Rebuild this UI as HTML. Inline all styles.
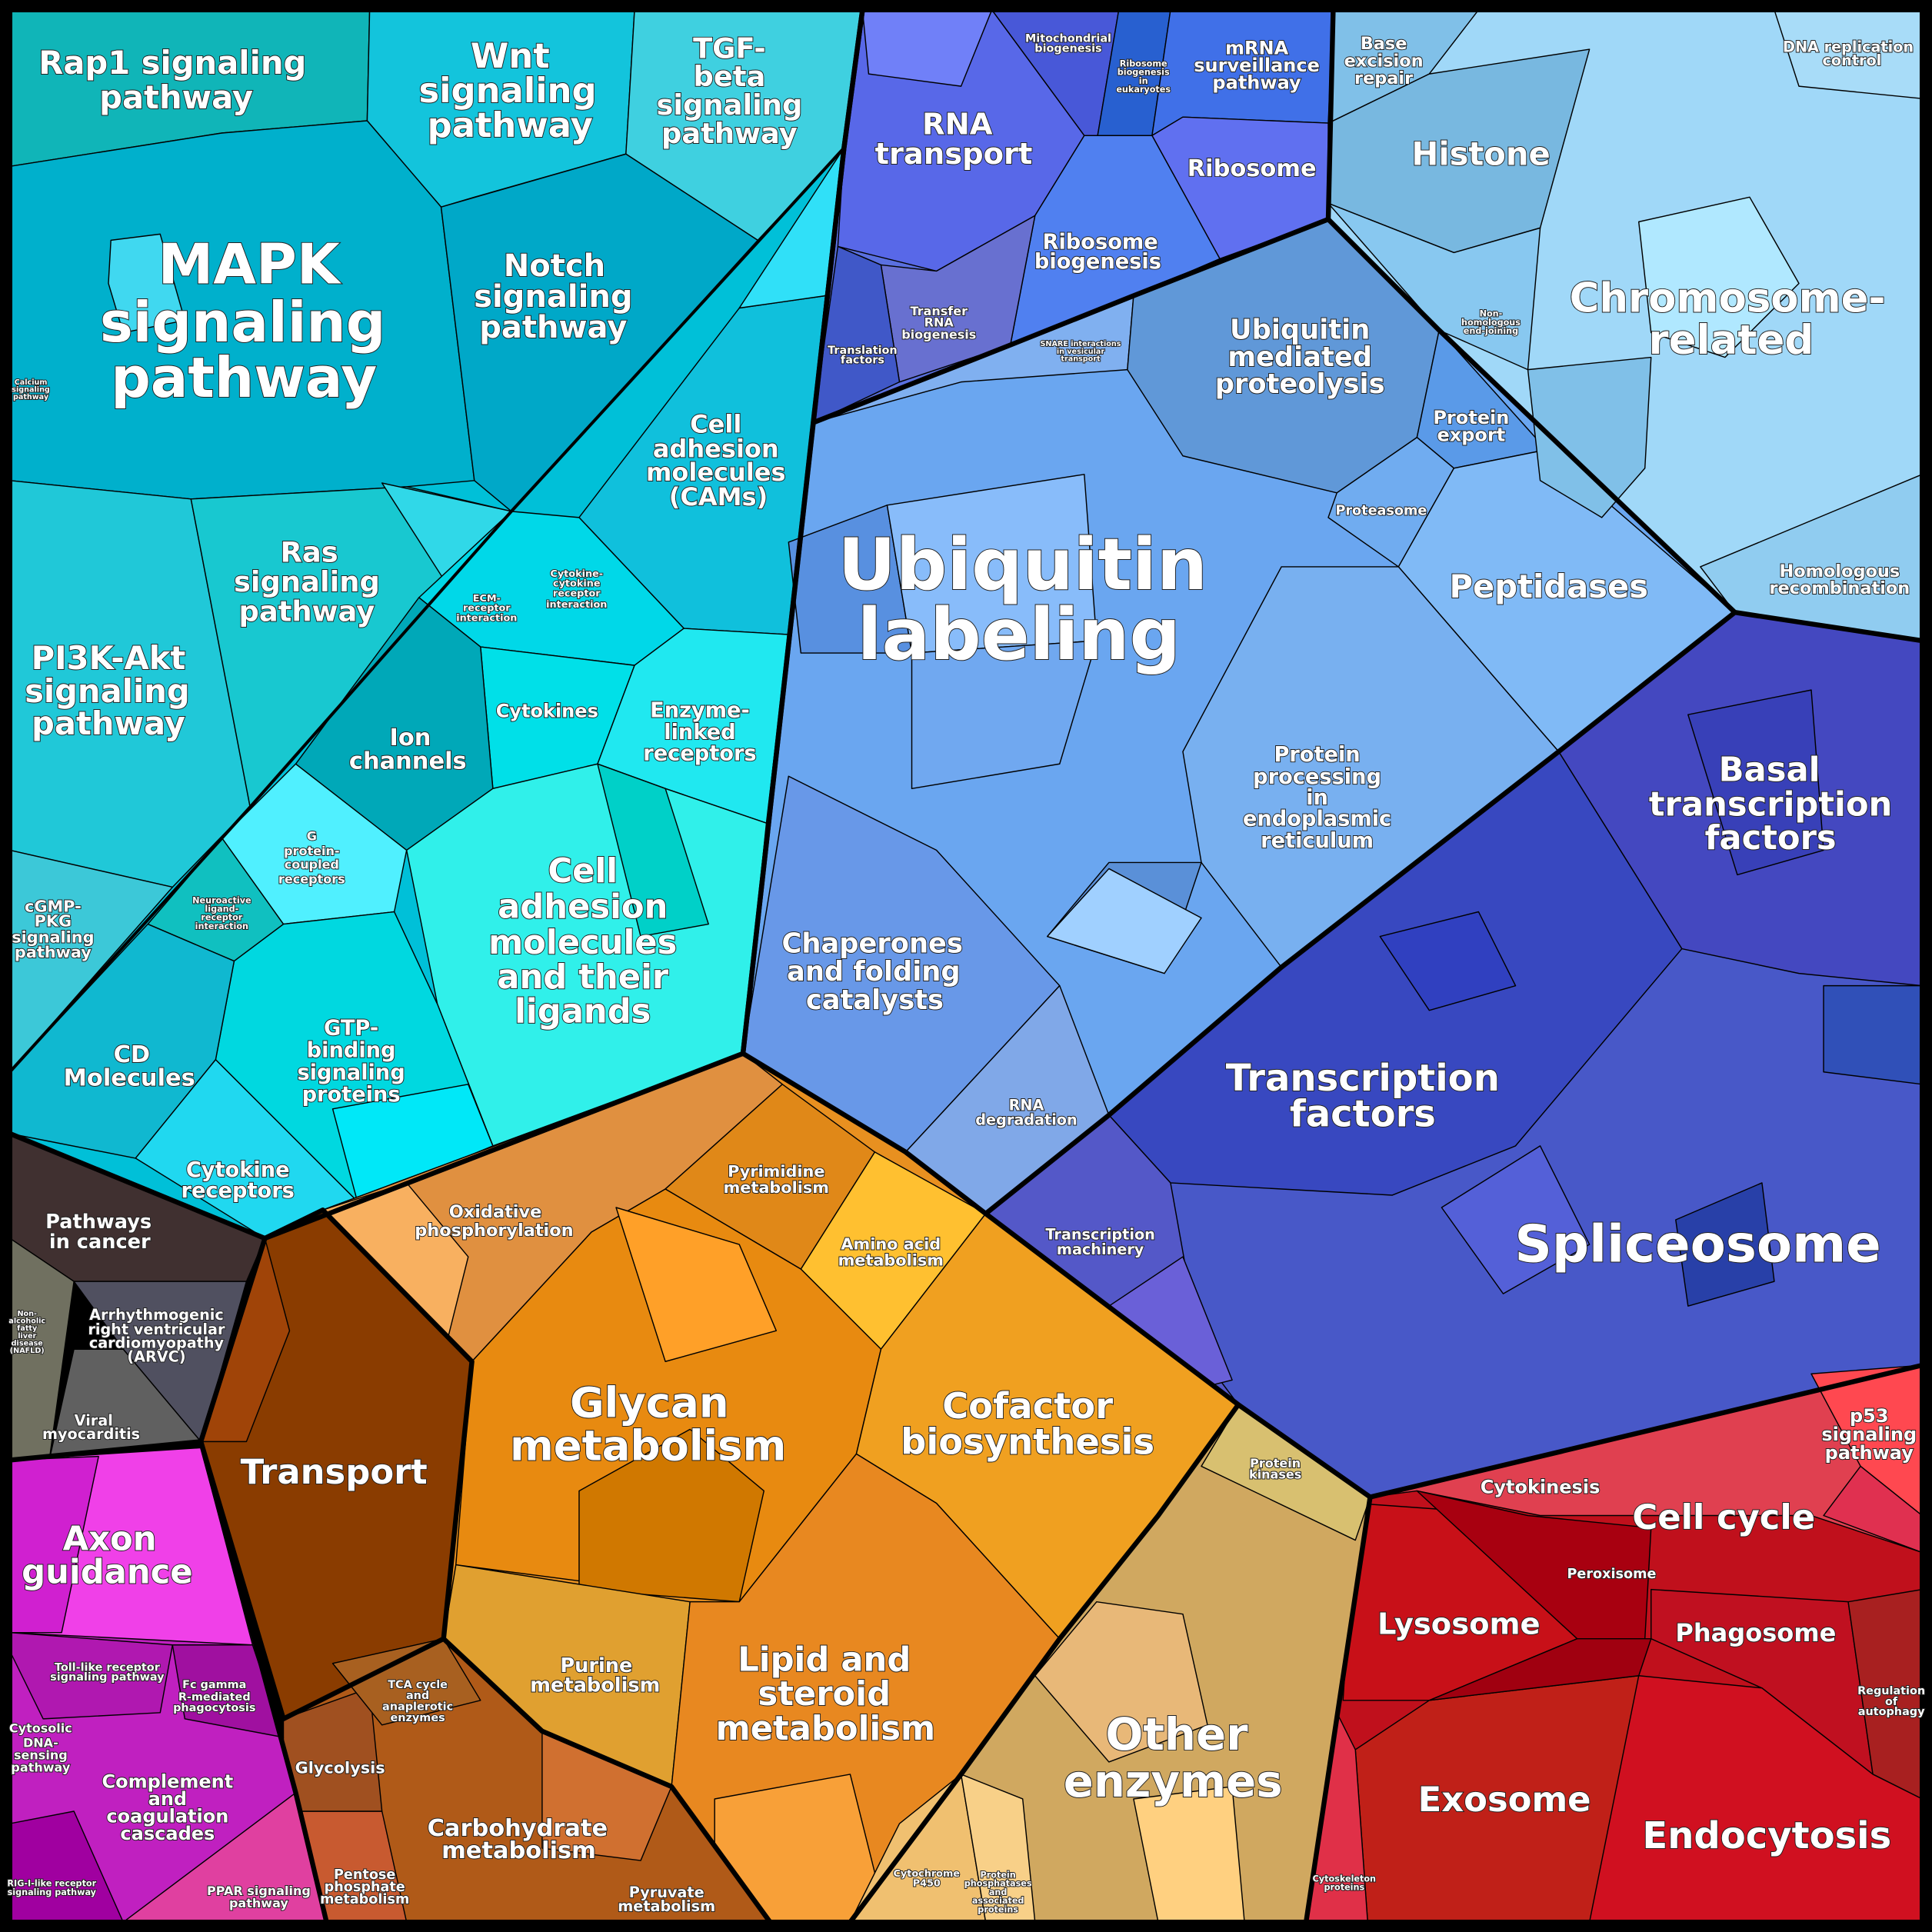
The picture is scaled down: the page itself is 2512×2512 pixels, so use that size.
<!DOCTYPE html>
<html><head><meta charset="utf-8"><style>
html,body{margin:0;padding:0;background:#000}
svg{display:block}
text{font-family:"DejaVu Sans","Liberation Sans",sans-serif;font-weight:bold;fill:#fff;stroke:#222;stroke-width:1.2;paint-order:stroke;text-anchor:middle}
.p polygon{stroke:#000;stroke-width:0.9;stroke-linejoin:round}
.t polyline,.t polygon{fill:none;stroke:#000;stroke-width:4;stroke-linejoin:round}
</style></head><body>
<svg width="2512" height="2512" viewBox="0 0 1568 1568" xmlns="http://www.w3.org/2000/svg">
<rect width="1568" height="1568" fill="#000"/>
<g class="p">
<polygon fill="#00c0d8" points="8,8 700,8 685,120 603,855 215,1005 8,920"/>
<polygon fill="#10b5b8" points="8,8 300,8 298,98 180,108 8,135"/>
<polygon fill="#13c4dc" points="300,8 515,8 508,125 385,160 358,168 298,98"/>
<polygon fill="#3fd0e0" points="515,8 700,8 685,120 615,195 508,125"/>
<polygon fill="#00b0cc" points="8,135 180,108 298,98 358,168 385,390 330,395 155,405 8,390"/>
<polygon fill="#40d8f0" points="90,195 130,190 150,260 100,270 88,230"/>
<polygon fill="#00a8c8" points="358,168 508,125 615,195 415,415 385,390"/>
<polygon fill="#20c8d8" points="8,390 155,405 203,655 140,720 8,690"/>
<polygon fill="#18c8d0" points="155,405 330,395 415,415 203,655"/>
<polygon fill="#30d8e8" points="310,392 415,415 360,470"/>
<polygon fill="#3cc8d8" points="8,690 140,720 8,870"/>
<polygon fill="#10c0dc" points="470,420 600,250 670,240 640,515 555,510"/>
<polygon fill="#30e0f8" points="600,250 685,120 670,240"/>
<polygon fill="#00d8e8" points="340,485 415,415 470,420 555,510 515,540 390,525"/>
<polygon fill="#00e0e8" points="390,525 515,540 485,620 400,640"/>
<polygon fill="#20e8f0" points="515,540 555,510 640,515 622,668 540,640 485,620"/>
<polygon fill="#00a8b8" points="240,620 340,485 390,525 400,640 330,690"/>
<polygon fill="#30f0ea" points="330,690 400,640 485,620 540,640 622,668 603,855 400,930 355,815"/>
<polygon fill="#00d0c8" points="485,620 540,640 575,750 520,760"/>
<polygon fill="#50f0ff" points="180,680 240,620 330,690 320,740 230,750"/>
<polygon fill="#00d8e0" points="190,780 230,750 320,740 355,815 400,930 290,975 175,860"/>
<polygon fill="#00e8f8" points="290,975 400,930 380,880 270,900"/>
<polygon fill="#10c0c0" points="120,750 180,680 230,750 190,780"/>
<polygon fill="#10b8d0" points="8,870 120,750 190,780 175,860 110,940 8,920"/>
<polygon fill="#20d8f0" points="110,940 175,860 290,975 215,1005"/>
<polygon fill="#5a70e0" points="700,8 1082,8 1078,178 990,210 920,240 820,280 660,343 685,120"/>
<polygon fill="#5868e8" points="700,8 805,8 880,110 840,175 760,220 680,200 685,120"/>
<polygon fill="#7080f8" points="700,8 805,8 780,70 705,60"/>
<polygon fill="#4858d8" points="805,8 908,8 890,115 880,110"/>
<polygon fill="#2860d0" points="908,8 950,8 935,110 890,115"/>
<polygon fill="#4070e8" points="950,8 1082,8 1080,100 960,95 935,110"/>
<polygon fill="#6070f0" points="935,110 960,95 1080,100 1078,178 990,210"/>
<polygon fill="#5080f0" points="840,175 880,110 935,110 990,210 920,240 820,280"/>
<polygon fill="#6870d0" points="715,215 760,220 840,175 820,280 730,310"/>
<polygon fill="#4058c8" points="680,200 715,215 730,310 660,343"/>
<polygon fill="#6aa6f0" points="660,343 820,280 920,240 1078,178 1168,268 1408,497 1265,610 1040,785 900,905 800,985 735,935 603,855"/>
<polygon fill="#80b0f0" points="660,343 820,280 920,240 915,300 780,310"/>
<polygon fill="#6098d8" points="920,240 1078,178 1168,268 1150,355 1085,400 960,370 915,300"/>
<polygon fill="#5a9ae8" points="1150,355 1168,268 1255,365 1180,380"/>
<polygon fill="#70acf0" points="1085,400 1150,355 1180,380 1135,460 1078,420"/>
<polygon fill="#80baf6" points="1180,380 1255,365 1408,497 1265,610 1135,460"/>
<polygon fill="#78b0f0" points="960,610 1040,460 1135,460 1265,610 1040,785 975,700"/>
<polygon fill="#5a90d8" points="850,760 900,700 975,700 945,790"/>
<polygon fill="#a0d0ff" points="850,760 900,705 975,745 945,790"/>
<polygon fill="#6898e8" points="603,855 640,630 760,690 860,800 735,935"/>
<polygon fill="#80a8e8" points="735,935 860,800 900,905 800,985"/>
<polygon fill="#5890e0" points="640,440 720,410 740,530 650,530"/>
<polygon fill="#88bcfa" points="720,410 880,385 890,520 740,530"/>
<polygon fill="#70a8f0" points="740,530 890,520 860,620 740,640"/>
<polygon fill="#a0d8f8" points="1082,8 1560,8 1560,385 1408,497 1168,268 1078,178"/>
<polygon fill="#80c0e8" points="1082,8 1200,8 1160,60 1078,100"/>
<polygon fill="#78b8e0" points="1078,100 1160,60 1290,40 1250,185 1180,205 1078,165"/>
<polygon fill="#88c8f0" points="1078,165 1180,205 1250,185 1240,300 1168,268"/>
<polygon fill="#b0e8ff" points="1330,180 1420,160 1460,230 1400,290 1340,270"/>
<polygon fill="#80c0e8" points="1240,300 1340,290 1335,380 1300,420 1250,390"/>
<polygon fill="#90ccf0" points="1380,460 1560,385 1560,520 1408,497"/>
<polygon fill="#a8dcf8" points="1440,8 1560,8 1560,80 1460,70"/>
<polygon fill="#4858c8" points="1408,497 1560,520 1560,1108 1112,1215 1005,1140 800,985 900,905 1265,610"/>
<polygon fill="#4448c0" points="1265,610 1408,497 1560,520 1560,800 1460,790 1365,770"/>
<polygon fill="#3840b8" points="1370,580 1470,560 1480,690 1410,710"/>
<polygon fill="#3848c0" points="900,905 1040,785 1265,610 1365,770 1230,930 1130,970 950,960"/>
<polygon fill="#3040c0" points="1120,760 1200,740 1230,800 1160,820"/>
<polygon fill="#5458c8" points="800,985 900,905 950,960 975,1100 1005,1140"/>
<polygon fill="#6a60d8" points="900,1060 960,1020 1000,1120 960,1130"/>
<polygon fill="#2840a8" points="1360,990 1430,960 1440,1040 1370,1060"/>
<polygon fill="#5460d8" points="1170,980 1250,930 1290,1010 1220,1050"/>
<polygon fill="#3050b8" points="1480,800 1560,800 1560,880 1480,870"/>
<polygon fill="#c0101c" points="1112,1215 1560,1108 1560,1560 1060,1560"/>
<polygon fill="#e04050" points="1112,1215 1560,1108 1560,1260 1470,1230 1250,1230 1150,1210"/>
<polygon fill="#ff4850" points="1470,1115 1560,1108 1560,1230 1510,1190"/>
<polygon fill="#e03050" points="1480,1230 1510,1190 1560,1230 1560,1260"/>
<polygon fill="#c81018" points="1100,1220 1240,1230 1280,1330 1160,1380 1090,1380"/>
<polygon fill="#a80010" points="1150,1210 1240,1230 1340,1240 1335,1330 1280,1330"/>
<polygon fill="#c01020" points="1340,1290 1500,1300 1520,1440 1430,1370 1340,1330"/>
<polygon fill="#a82020" points="1500,1300 1560,1290 1560,1460 1520,1440"/>
<polygon fill="#c02018" points="1100,1420 1160,1380 1330,1360 1310,1560 1110,1560"/>
<polygon fill="#a00010" points="1160,1380 1280,1330 1340,1330 1330,1360"/>
<polygon fill="#d01020" points="1330,1360 1430,1370 1520,1440 1560,1460 1560,1560 1290,1560"/>
<polygon fill="#e03048" points="1080,1380 1100,1420 1110,1560 1060,1560"/>
<polygon fill="#e89020" points="603,855 735,935 800,985 1005,1140 1112,1215 1060,1560 265,1560 215,1005 262,982"/>
<polygon fill="#e09040" points="262,982 603,855 635,880 540,965 480,1000 383,1105 360,1100"/>
<polygon fill="#f8b060" points="262,982 330,960 380,1020 360,1100"/>
<polygon fill="#e08818" points="540,965 635,880 710,935 650,1030"/>
<polygon fill="#ffc030" points="650,1030 710,935 800,985 715,1095"/>
<polygon fill="#e88a10" points="383,1105 480,1000 540,965 650,1030 715,1095 695,1180 600,1300 370,1270"/>
<polygon fill="#ffa028" points="500,980 600,1010 630,1080 540,1105"/>
<polygon fill="#d07800" points="470,1210 560,1160 620,1210 600,1300 470,1290"/>
<polygon fill="#f0a020" points="715,1095 800,985 1005,1140 940,1230 860,1330 760,1220 695,1180"/>
<polygon fill="#e0a030" points="370,1270 560,1300 545,1450 440,1405 360,1330"/>
<polygon fill="#e88820" points="560,1300 600,1300 695,1180 760,1220 860,1330 780,1440 690,1560 580,1560 545,1450"/>
<polygon fill="#f8a038" points="580,1460 690,1440 720,1560 580,1560"/>
<polygon fill="#d0a860" points="1005,1140 1112,1215 1060,1560 690,1560 780,1440 860,1330 940,1230"/>
<polygon fill="#e8b878" points="840,1360 890,1300 960,1310 980,1400 900,1430"/>
<polygon fill="#ffd080" points="920,1460 1000,1450 1010,1560 940,1560"/>
<polygon fill="#f0c070" points="690,1560 730,1480 780,1440 800,1560"/>
<polygon fill="#f8d088" points="780,1440 830,1460 840,1560 800,1560"/>
<polygon fill="#d8c070" points="975,1190 1005,1140 1112,1215 1100,1250"/>
<polygon fill="#8a3c00" points="215,1005 262,982 383,1105 360,1330 230,1395 163,1170"/>
<polygon fill="#a04408" points="215,1005 235,1080 200,1170 163,1170"/>
<polygon fill="#b05a18" points="230,1395 360,1330 440,1405 545,1450 625,1560 265,1560"/>
<polygon fill="#d07030" points="440,1405 545,1450 520,1510 440,1500"/>
<polygon fill="#c85a30" points="230,1470 310,1470 330,1560 265,1560"/>
<polygon fill="#a05020" points="230,1395 300,1370 310,1470 230,1470"/>
<polygon fill="#a86020" points="270,1350 360,1330 390,1380 310,1400"/>
<polygon fill="#403030" points="8,920 215,1005 200,1040 60,1040 8,1005"/>
<polygon fill="#505060" points="60,1040 200,1040 163,1170 100,1095"/>
<polygon fill="#707060" points="8,1005 60,1040 40,1185 8,1185"/>
<polygon fill="#606060" points="40,1185 60,1095 100,1095 163,1170"/>
<polygon fill="#c020c0" points="8,1185 163,1175 240,1455 265,1560 8,1560"/>
<polygon fill="#f040e8" points="8,1185 163,1175 205,1335 8,1325"/>
<polygon fill="#d020d0" points="8,1185 80,1182 50,1325 8,1325"/>
<polygon fill="#b018b0" points="8,1325 140,1335 130,1390 35,1395 8,1340"/>
<polygon fill="#a010a0" points="140,1335 205,1335 230,1410 150,1395"/>
<polygon fill="#e040a0" points="100,1560 240,1455 265,1560"/>
<polygon fill="#a000a0" points="8,1480 60,1470 100,1560 8,1560"/>
</g>
<g class="t">
<polyline points="685,120 415,415 203,655 8,870" style="stroke-width:2.5"/>
<polyline points="700,8 685,120 603,855 215,1005 8,920"/>
<polyline points="700,8 685,120 660,343 603,855"/>
<polyline points="660,343 820,280 920,240 1078,178 1168,268 1408,497 1265,610 1040,785 900,905 800,985"/>
<polyline points="1082,8 1078,178"/>
<polyline points="1408,497 1560,520"/>
<polyline points="603,855 735,935 800,985 1005,1140 1112,1215 1560,1108"/>
<polyline points="1112,1215 1060,1560"/>
<polyline points="1005,1140 940,1230 860,1330 780,1440 690,1560"/>
<polyline points="215,1005 163,1170 8,1185"/>
<polyline points="163,1170 240,1455 265,1560"/>
<polyline points="215,1005 262,982 383,1105 360,1330 230,1395 163,1170"/>
<polyline points="360,1330 440,1405 545,1450 625,1560"/>
<rect x="6" y="6" width="1556" height="1556" fill="none" stroke="#000" stroke-width="8"/>
</g>
<g>
<text x="140" y="60" font-size="26">Rap1 signaling</text>
<text x="143" y="88" font-size="26">pathway</text>
<text x="414" y="55" font-size="28">Wnt</text>
<text x="412" y="83" font-size="28">signaling</text>
<text x="414" y="111" font-size="28">pathway</text>
<text x="592" y="47" font-size="23">TGF-</text>
<text x="592" y="70" font-size="23">beta</text>
<text x="592" y="93" font-size="23">signaling</text>
<text x="592" y="116" font-size="23">pathway</text>
<text x="202" y="230" font-size="45">MAPK</text>
<text x="197" y="277" font-size="45">signaling</text>
<text x="198" y="322" font-size="45">pathway</text>
<text x="450" y="224" font-size="25">Notch</text>
<text x="449" y="249" font-size="25">signaling</text>
<text x="449" y="274" font-size="25">pathway</text>
<text x="25" y="312" font-size="6">Calcium</text>
<text x="25" y="318" font-size="6">signaling</text>
<text x="25" y="324" font-size="6">pathway</text>
<text x="251" y="456" font-size="23">Ras</text>
<text x="249" y="480" font-size="23">signaling</text>
<text x="249" y="504" font-size="23">pathway</text>
<text x="88" y="543" font-size="26">PI3K-Akt</text>
<text x="87" y="570" font-size="26">signaling</text>
<text x="88" y="596" font-size="26">pathway</text>
<text x="43" y="740" font-size="13">cGMP-</text>
<text x="43" y="752" font-size="13">PKG</text>
<text x="43" y="765" font-size="13">signaling</text>
<text x="43" y="777" font-size="13">pathway</text>
<text x="581" y="351" font-size="20">Cell</text>
<text x="581" y="371" font-size="20">adhesion</text>
<text x="581" y="390" font-size="20">molecules</text>
<text x="583" y="410" font-size="20">(CAMs)</text>
<text x="395" y="488" font-size="8">ECM-</text>
<text x="395" y="496" font-size="8">receptor</text>
<text x="395" y="504" font-size="8">interaction</text>
<text x="468" y="468" font-size="8">Cytokine-</text>
<text x="468" y="476" font-size="8">cytokine</text>
<text x="468" y="484" font-size="8">receptor</text>
<text x="468" y="493" font-size="8">interaction</text>
<text x="444" y="582" font-size="15">Cytokines</text>
<text x="568" y="582" font-size="17">Enzyme-</text>
<text x="568" y="600" font-size="17">linked</text>
<text x="568" y="617" font-size="17">receptors</text>
<text x="333" y="605" font-size="19">Ion</text>
<text x="331" y="624" font-size="19">channels</text>
<text x="253" y="682" font-size="10">G</text>
<text x="253" y="694" font-size="10">protein-</text>
<text x="253" y="705" font-size="10">coupled</text>
<text x="253" y="717" font-size="10">receptors</text>
<text x="180" y="733" font-size="7">Neuroactive</text>
<text x="180" y="740" font-size="7">ligand-</text>
<text x="180" y="747" font-size="7">receptor</text>
<text x="180" y="754" font-size="7">interaction</text>
<text x="473" y="716" font-size="27">Cell</text>
<text x="473" y="745" font-size="27">adhesion</text>
<text x="473" y="774" font-size="27">molecules</text>
<text x="473" y="802" font-size="27">and their</text>
<text x="473" y="830" font-size="27">ligands</text>
<text x="285" y="840" font-size="17">GTP-</text>
<text x="285" y="858" font-size="17">binding</text>
<text x="285" y="876" font-size="17">signaling</text>
<text x="285" y="894" font-size="17">proteins</text>
<text x="107" y="862" font-size="19">CD</text>
<text x="105" y="881" font-size="19">Molecules</text>
<text x="193" y="955" font-size="17">Cytokine</text>
<text x="193" y="972" font-size="17">receptors</text>
<text x="777" y="109" font-size="24">RNA</text>
<text x="774" y="133" font-size="24">transport</text>
<text x="867" y="34" font-size="9">Mitochondrial</text>
<text x="867" y="42" font-size="9">biogenesis</text>
<text x="928" y="54" font-size="7">Ribosome</text>
<text x="928" y="61" font-size="7">biogenesis</text>
<text x="928" y="68" font-size="7">in</text>
<text x="928" y="75" font-size="7">eukaryotes</text>
<text x="1020" y="44" font-size="15">mRNA</text>
<text x="1020" y="58" font-size="15">surveillance</text>
<text x="1020" y="72" font-size="15">pathway</text>
<text x="1016" y="143" font-size="19">Ribosome</text>
<text x="893" y="202" font-size="17">Ribosome</text>
<text x="891" y="218" font-size="17">biogenesis</text>
<text x="762" y="256" font-size="10">Transfer</text>
<text x="762" y="265" font-size="10">RNA</text>
<text x="762" y="275" font-size="10">biogenesis</text>
<text x="700" y="287" font-size="9">Translation</text>
<text x="700" y="295" font-size="9">factors</text>
<text x="877" y="281" font-size="6">SNARE interactions</text>
<text x="877" y="287" font-size="6">in vesicular</text>
<text x="877" y="293" font-size="6">transport</text>
<text x="1055" y="275" font-size="22">Ubiquitin</text>
<text x="1055" y="297" font-size="22">mediated</text>
<text x="1055" y="319" font-size="22">proteolysis</text>
<text x="1194" y="344" font-size="15">Protein</text>
<text x="1194" y="358" font-size="15">export</text>
<text x="1121" y="418" font-size="11">Proteasome</text>
<text x="830" y="478" font-size="58">Ubiquitin</text>
<text x="827" y="535" font-size="58">labeling</text>
<text x="1257" y="485" font-size="26">Peptidases</text>
<text x="1069" y="618" font-size="17">Protein</text>
<text x="1069" y="636" font-size="17">processing</text>
<text x="1069" y="653" font-size="17">in</text>
<text x="1069" y="670" font-size="17">endoplasmic</text>
<text x="1069" y="688" font-size="17">reticulum</text>
<text x="708" y="773" font-size="22">Chaperones</text>
<text x="709" y="796" font-size="22">and folding</text>
<text x="710" y="819" font-size="22">catalysts</text>
<text x="833" y="901" font-size="12">RNA</text>
<text x="833" y="913" font-size="12">degradation</text>
<text x="1123" y="40" font-size="14">Base</text>
<text x="1123" y="54" font-size="14">excision</text>
<text x="1123" y="68" font-size="14">repair</text>
<text x="1500" y="42" font-size="12">DNA replication</text>
<text x="1503" y="53" font-size="12">control</text>
<text x="1202" y="134" font-size="26">Histone</text>
<text x="1210" y="257" font-size="7">Non-</text>
<text x="1210" y="264" font-size="7">homologous</text>
<text x="1210" y="271" font-size="7">end-joining</text>
<text x="1402" y="253" font-size="33">Chromosome-</text>
<text x="1405" y="287" font-size="33">related</text>
<text x="1493" y="468" font-size="14">Homologous</text>
<text x="1493" y="482" font-size="14">recombination</text>
<text x="1436" y="634" font-size="27">Basal</text>
<text x="1437" y="662" font-size="27">transcription</text>
<text x="1437" y="689" font-size="27">factors</text>
<text x="1106" y="885" font-size="30">Transcription</text>
<text x="1106" y="914" font-size="30">factors</text>
<text x="893" y="1006" font-size="12">Transcription</text>
<text x="893" y="1018" font-size="12">machinery</text>
<text x="1378" y="1024" font-size="42">Spliceosome</text>
<text x="1517" y="1154" font-size="15">p53</text>
<text x="1517" y="1169" font-size="15">signaling</text>
<text x="1517" y="1184" font-size="15">pathway</text>
<text x="1250" y="1212" font-size="15">Cytokinesis</text>
<text x="1399" y="1241" font-size="28">Cell cycle</text>
<text x="1308" y="1281" font-size="11">Peroxisome</text>
<text x="1184" y="1326" font-size="24">Lysosome</text>
<text x="1425" y="1332" font-size="20">Phagosome</text>
<text x="1535" y="1375" font-size="9">Regulation</text>
<text x="1535" y="1384" font-size="9">of</text>
<text x="1535" y="1392" font-size="9">autophagy</text>
<text x="1221" y="1470" font-size="28">Exosome</text>
<text x="1434" y="1500" font-size="30">Endocytosis</text>
<text x="1091" y="1527" font-size="7">Cytoskeleton</text>
<text x="1091" y="1534" font-size="7">proteins</text>
<text x="402" y="988" font-size="14">Oxidative</text>
<text x="401" y="1003" font-size="14">phosphorylation</text>
<text x="630" y="955" font-size="13">Pyrimidine</text>
<text x="630" y="968" font-size="13">metabolism</text>
<text x="723" y="1014" font-size="13">Amino acid</text>
<text x="723" y="1027" font-size="13">metabolism</text>
<text x="527" y="1150" font-size="34">Glycan</text>
<text x="526" y="1185" font-size="34">metabolism</text>
<text x="834" y="1151" font-size="29">Cofactor</text>
<text x="834" y="1180" font-size="29">biosynthesis</text>
<text x="271" y="1204" font-size="28">Transport</text>
<text x="1035" y="1191" font-size="10">Protein</text>
<text x="1035" y="1200" font-size="10">kinases</text>
<text x="484" y="1357" font-size="16">Purine</text>
<text x="483" y="1373" font-size="16">metabolism</text>
<text x="669" y="1356" font-size="27">Lipid and</text>
<text x="669" y="1384" font-size="27">steroid</text>
<text x="670" y="1412" font-size="27">metabolism</text>
<text x="955" y="1420" font-size="36">Other</text>
<text x="952" y="1458" font-size="36">enzymes</text>
<text x="339" y="1370" font-size="9">TCA cycle</text>
<text x="339" y="1379" font-size="9">and</text>
<text x="339" y="1388" font-size="9">anaplerotic</text>
<text x="339" y="1397" font-size="9">enzymes</text>
<text x="276" y="1439" font-size="13">Glycolysis</text>
<text x="420" y="1490" font-size="19">Carbohydrate</text>
<text x="421" y="1508" font-size="19">metabolism</text>
<text x="296" y="1525" font-size="11">Pentose</text>
<text x="296" y="1535" font-size="11">phosphate</text>
<text x="296" y="1545" font-size="11">metabolism</text>
<text x="541" y="1540" font-size="12">Pyruvate</text>
<text x="541" y="1551" font-size="12">metabolism</text>
<text x="752" y="1523" font-size="8">Cytochrome</text>
<text x="752" y="1531" font-size="8">P450</text>
<text x="810" y="1524" font-size="7">Protein</text>
<text x="810" y="1531" font-size="7">phosphatases</text>
<text x="810" y="1538" font-size="7">and</text>
<text x="810" y="1545" font-size="7">associated</text>
<text x="810" y="1552" font-size="7">proteins</text>
<text x="80" y="997" font-size="16">Pathways</text>
<text x="81" y="1013" font-size="16">in cancer</text>
<text x="127" y="1071" font-size="12">Arrhythmogenic</text>
<text x="127" y="1083" font-size="12">right ventricular</text>
<text x="127" y="1094" font-size="12">cardiomyopathy</text>
<text x="127" y="1105" font-size="12">(ARVC)</text>
<text x="22" y="1068" font-size="6">Non-</text>
<text x="22" y="1074" font-size="6">alcoholic</text>
<text x="22" y="1080" font-size="6">fatty</text>
<text x="22" y="1086" font-size="6">liver</text>
<text x="22" y="1092" font-size="6">disease</text>
<text x="22" y="1098" font-size="6">(NAFLD)</text>
<text x="76" y="1157" font-size="12">Viral</text>
<text x="74" y="1168" font-size="12">myocarditis</text>
<text x="89" y="1258" font-size="27">Axon</text>
<text x="87" y="1285" font-size="27">guidance</text>
<text x="87" y="1356" font-size="9">Toll-like receptor</text>
<text x="87" y="1364" font-size="9">signaling pathway</text>
<text x="174" y="1370" font-size="9">Fc gamma</text>
<text x="174" y="1380" font-size="9">R-mediated</text>
<text x="174" y="1389" font-size="9">phagocytosis</text>
<text x="33" y="1406" font-size="10">Cytosolic</text>
<text x="33" y="1418" font-size="10">DNA-</text>
<text x="33" y="1428" font-size="10">sensing</text>
<text x="33" y="1438" font-size="10">pathway</text>
<text x="136" y="1451" font-size="15">Complement</text>
<text x="136" y="1465" font-size="15">and</text>
<text x="136" y="1479" font-size="15">coagulation</text>
<text x="136" y="1493" font-size="15">cascades</text>
<text x="42" y="1531" font-size="7">RIG-I-like receptor</text>
<text x="42" y="1538" font-size="7">signaling pathway</text>
<text x="210" y="1538" font-size="10">PPAR signaling</text>
<text x="210" y="1548" font-size="10">pathway</text>
</g>
</svg>
</body></html>
